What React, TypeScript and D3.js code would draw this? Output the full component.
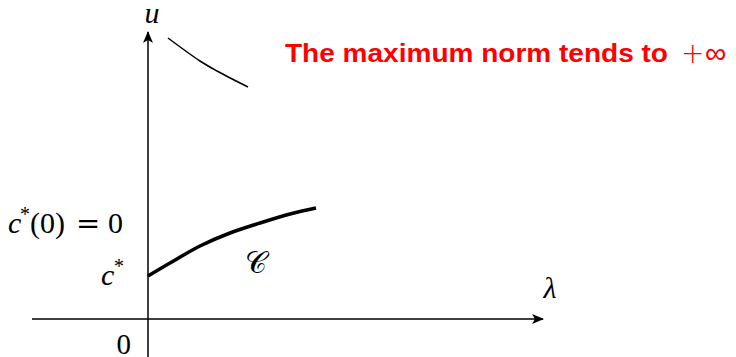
import React from "react";
import * as d3 from "d3";

// Branch of solutions starting at c* on the u-axis (thick curve C)
const lowerLambda = [0, 0.22, 0.52, 0.82, 1.12, 1.42, 1.68];
const lowerU = [0.43, 0.56, 0.73, 0.86, 0.96, 1.05, 1.11];

// Branch escaping to infinity near λ = 0
const upperLambda = [0.2, 0.52, 0.69, 1.0];
const upperU = [2.81, 2.58, 2.48, 2.32];

const W = 736;
const H = 357;

export default function App() {
  const x = d3.scaleLinear().domain([-1.16, 3.95]).range([32, 543]);
  const y = d3.scaleLinear().domain([-0.38, 2.87]).range([357, 32]);

  const line = d3
    .line<[number, number]>()
    .x((d) => x(d[0]))
    .y((d) => y(d[1]))
    .curve(d3.curveCatmullRom.alpha(0.5));

  const lower = lowerLambda.map((l, i) => [l, lowerU[i]] as [number, number]);
  const upper = upperLambda.map((l, i) => [l, upperU[i]] as [number, number]);

  const x0 = x(0);
  const y0 = y(0);
  const serif = "'Liberation Serif', 'DejaVu Serif', serif";
  const wide = "'DejaVu Sans', sans-serif";

  return (
    <svg
      width={W}
      height={H}
      style={{ position: "absolute", left: 0, top: 0, background: "#fff" }}
    >
      <defs>
        <marker
          id="arrow"
          viewBox="0 0 12 10"
          refX="11"
          refY="5"
          markerWidth="12"
          markerHeight="10"
          markerUnits="userSpaceOnUse"
          orient="auto"
        >
          <path d="M0,0 L12,5 L0,10 L3,5 Z" fill="#000" />
        </marker>
      </defs>

      {/* axes */}
      <line
        x1={x(-1.16)}
        y1={y0}
        x2={x(3.95)}
        y2={y0}
        stroke="#000"
        strokeWidth={1.5}
        markerEnd="url(#arrow)"
      />
      <line
        x1={x0}
        y1={y(-0.38)}
        x2={x0}
        y2={y(2.87)}
        stroke="#000"
        strokeWidth={1.5}
        markerEnd="url(#arrow)"
      />

      {/* solution branches */}
      <path d={line(upper) || ""} fill="none" stroke="#000" strokeWidth={1.5} />
      <path d={line(lower) || ""} fill="none" stroke="#000" strokeWidth={3.5} />

      {/* axis labels */}
      <text x={152} y={23} fontFamily={serif} fontStyle="italic" fontSize={30} textAnchor="middle">
        u
      </text>
      <text x={550} y={298} fontFamily={serif} fontStyle="italic" fontSize={30} textAnchor="middle">
        λ
      </text>
      <text x={131} y={354} fontFamily={serif} fontSize={29} textAnchor="end">
        0
      </text>

      {/* levels on the u-axis: c*(0) = 0 */}
      <g fontFamily={serif} fontSize={30}>
        <text x={8} y={233} fontStyle="italic">c</text>
        <text x={20} y={221} fontSize={20}>*</text>
        <text x={30} y={233}>(0)</text>
        <text x={76} y={233} fontFamily={wide} fontSize={29}>=</text>
        <text x={123} y={233} textAnchor="end">0</text>
      </g>
      <g fontFamily={serif} fontSize={30}>
        <text x={101} y={285} fontStyle="italic">c</text>
        <text x={114} y={273} fontSize={20}>*</text>
      </g>

      {/* curve name */}
      <text x={256} y={273} fontFamily={serif} fontSize={30} textAnchor="middle">
        𝒞
      </text>

      {/* annotation */}
      <text
        x={285}
        y={62}
        fill="#ff0000"
        fontSize={26}
        fontWeight="bold"
        fontFamily="'Liberation Sans', Arial, sans-serif"
        textLength={383}
        lengthAdjust="spacingAndGlyphs"
      >
        The maximum norm tends to
      </text>
      <g fill="#ff0000" fontFamily={wide} fontWeight={300}>
        <text x={681} y={63} fontSize={28}>+</text>
        <text x={705} y={63} fontSize={30}>∞</text>
      </g>
    </svg>
  );
}
